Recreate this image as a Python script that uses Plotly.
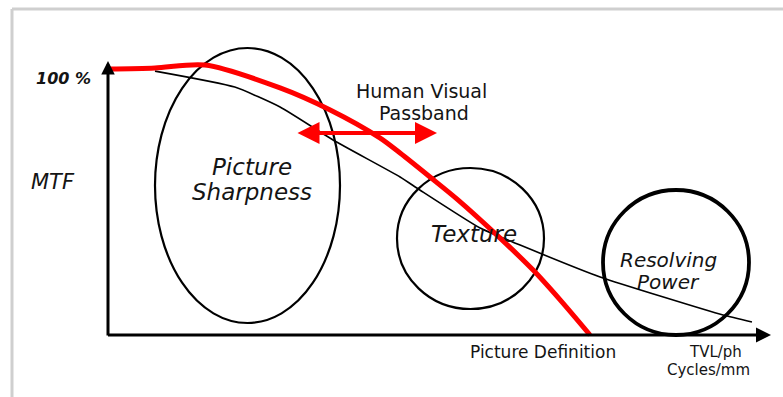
import plotly.graph_objects as go

# ---- data (spatial frequency f: 0..100 = picture definition limit; MTF in %) ----
red_freq = [0, 9.75, 20.1, 35.7, 46.1, 56.4, 60.6, 66.8, 72.6, 81.3, 88.2, 93.8, 100]
red_mtf = [100, 100.4, 101.5, 92.9, 84.6, 74.1, 68.4, 59.4, 50.8, 36.5, 24.4, 13.2, 0]

black_freq = [9.75, 26.3, 35.7, 46.7, 60.6, 64.7, 77.2, 85.5, 102.1, 127.6, 133.6]
black_mtf = [99.2, 93.2, 85.7, 73.3, 59.4, 54.5, 40.2, 33.8, 21.8, 7.5, 4.9]

# ---- pixel <-> data helpers for layout placement ----
W, H = 783, 397
X0, XS = 108, 4.82   # pixel of f=0, pixels per unit
Y0, YS = 335, 2.66   # pixel of MTF=0, pixels per %


def fx(px):
    return (px - X0) / XS


def my(py):
    return (Y0 - py) / YS


FONT = "DejaVu Sans, Liberation Sans, Arial, sans-serif"
TXT = "#141414"

fig = go.Figure()

fig.add_trace(go.Scatter(x=black_freq, y=black_mtf, mode="lines",
                         line=dict(color="black", width=1.6, shape="spline", smoothing=0.5),
                         hoverinfo="skip", showlegend=False))
fig.add_trace(go.Scatter(x=red_freq, y=red_mtf, mode="lines",
                         line=dict(color="#ff0000", width=5, shape="spline", smoothing=0.8),
                         hoverinfo="skip", showlegend=False))

shapes = [
    # grey frame
    dict(type="line", xref="paper", yref="paper", x0=12 / W, x1=1, y0=1 - 9 / H, y1=1 - 9 / H,
         line=dict(color="#cfcfcf", width=3)),
    dict(type="line", xref="paper", yref="paper", x0=12 / W, x1=12 / W, y0=1 - 9 / H, y1=0,
         line=dict(color="#cfcfcf", width=3)),
    # ellipses
    dict(type="circle", xref="x", yref="y", x0=fx(155), x1=fx(340), y0=my(48), y1=my(323),
         line=dict(color="black", width=2.2), layer="below"),
    dict(type="circle", xref="x", yref="y", x0=fx(397), x1=fx(544), y0=my(168), y1=my(309),
         line=dict(color="black", width=2.2), layer="below"),
    dict(type="circle", xref="x", yref="y", x0=fx(603), x1=fx(749), y0=my(190), y1=my(335),
         line=dict(color="black", width=3.8), layer="below"),
]

ann = []
# axes with arrows
ann.append(dict(x=fx(108), y=my(61), ax=fx(108), ay=my(337), xref="x", yref="y", axref="x", ayref="y",
                text="", showarrow=True, arrowhead=2, arrowsize=0.9, arrowwidth=3, arrowcolor="black"))
ann.append(dict(x=fx(771), y=my(335), ax=fx(106.5), ay=my(335), xref="x", yref="y", axref="x", ayref="y",
                text="", showarrow=True, arrowhead=2, arrowsize=1.0, arrowwidth=3, arrowcolor="black"))
# red double arrow (human visual passband)
ann.append(dict(x=fx(437), y=my(133), ax=fx(296), ay=my(133), xref="x", yref="y", axref="x", ayref="y",
                text="", showarrow=True, arrowhead=2, arrowside="end+start", arrowsize=1.1,
                arrowwidth=4, arrowcolor="#ff0000"))


def label(px, py, text, size, italic=False, bold=False, xanchor="center"):
    ann.append(dict(x=fx(px), y=my(py), xref="x", yref="y", text=text, showarrow=False,
                    xanchor=xanchor, yanchor="middle",
                    font=dict(family=FONT, size=size, color=TXT,
                              style="italic" if italic else "normal",
                              weight="bold" if bold else "normal")))


label(63, 78, "100 %", 16, italic=True, bold=True)
label(53, 182, "MTF", 21, italic=True)
label(421, 91, "Human Visual", 19)
label(424, 113, "Passband", 19)
label(252, 167, "Picture", 23, italic=True)
label(252, 192, "Sharpness", 23, italic=True)
label(474, 234, "Texture", 23, italic=True)
label(668, 260, "Resolving", 20, italic=True)
label(668, 282, "Power", 20, italic=True)
label(543, 352, "Picture Definition", 17)
label(715, 352, "TVL/ph", 15)
label(708, 370, "Cycles/mm", 15)

fig.update_layout(
    width=W, height=H, margin=dict(l=0, r=0, t=0, b=0),
    paper_bgcolor="white", plot_bgcolor="white",
    xaxis=dict(range=[fx(0), fx(W)], visible=False, fixedrange=True),
    yaxis=dict(range=[my(H), my(0)], visible=False, fixedrange=True),
    shapes=shapes, annotations=ann, showlegend=False,
)

fig.write_html("out.html", config={"displayModeBar": False},
               post_script="document.body.style.margin='0';document.body.style.overflow='hidden';")
